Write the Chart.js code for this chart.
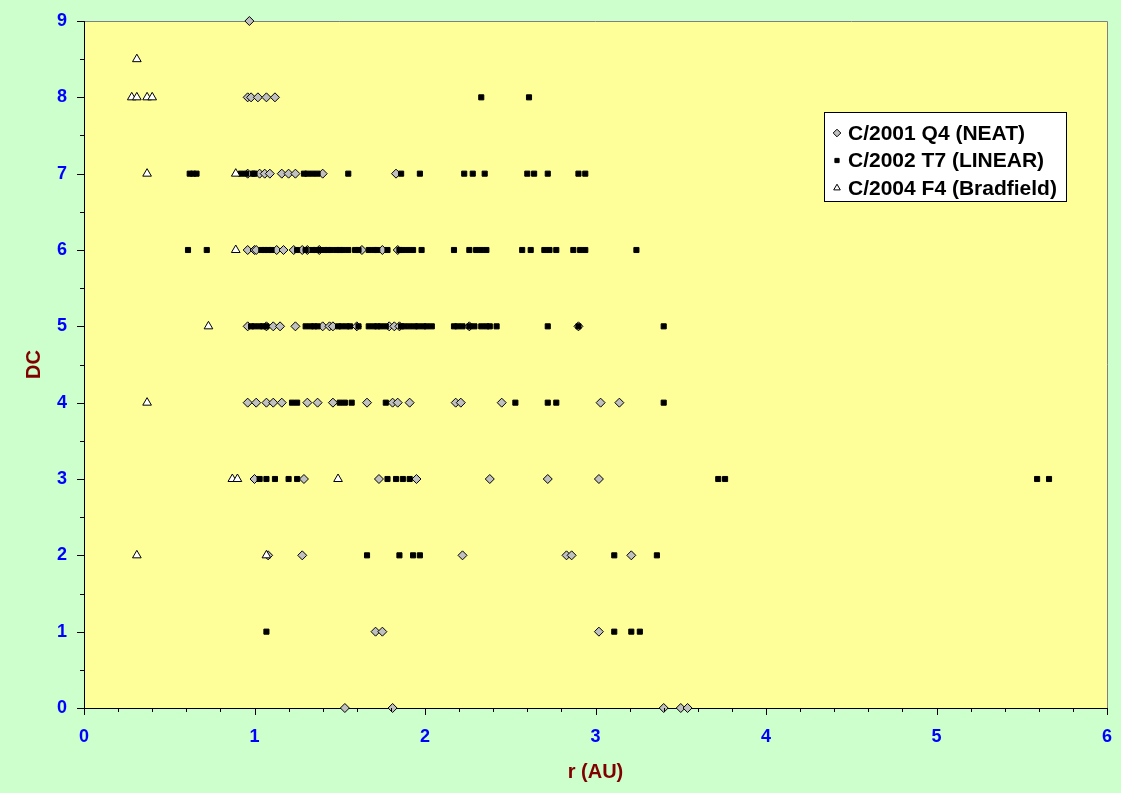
<!DOCTYPE html>
<html><head><meta charset="utf-8">
<script src="https://cdn.jsdelivr.net/npm/chart.js@4"></script>
<style>html,body{margin:0;padding:0;background:#CCFFCC;}#wrap{width:1121px;height:793px;}</style>
</head><body><div id="wrap"><canvas id="c" width="1121" height="793"></canvas></div>
<script>
const seriesNames = ['C/2001 Q4 (NEAT)', 'C/2002 T7 (LINEAR)', 'C/2004 F4 (Bradfield)'];
const xTitle = 'r (AU)';
const yTitle = 'DC';
const xTickValues = [0, 1, 2, 3, 4, 5, 6];
const yTickValues = [0, 1, 2, 3, 4, 5, 6, 7, 8, 9];

// [r (AU), DC]
const neatPoints = [
  [0.97,9],
  [0.96,8],[0.98,8],[1.02,8],[1.07,8],[1.12,8],
  [0.96,7],[1.03,7],[1.06,7],[1.09,7],[1.16,7],[1.20,7],[1.24,7],[1.40,7],[1.83,7],
  [0.96,6],[1.00,6],[1.01,6],[1.13,6],[1.17,6],[1.23,6],[1.28,6],[1.31,6],[1.38,6],[1.63,6],[1.75,6],[1.84,6],
  [0.96,5],[1.07,5],[1.11,5],[1.15,5],[1.24,5],[1.40,5],[1.44,5],[1.46,5],[1.60,5],[1.79,5],[1.82,5],[1.85,5],[2.26,5],[2.90,5],
  [0.96,4],[1.01,4],[1.07,4],[1.11,4],[1.16,4],[1.31,4],[1.37,4],[1.46,4],[1.66,4],[1.81,4],[1.84,4],[1.91,4],[2.18,4],[2.21,4],[2.45,4],[3.03,4],[3.14,4],
  [1.00,3],[1.29,3],[1.73,3],[1.95,3],[2.38,3],[2.72,3],[3.02,3],
  [1.08,2],[1.28,2],[2.22,2],[2.83,2],[2.86,2],[3.21,2],
  [1.71,1],[1.75,1],[3.02,1],
  [1.53,0],[1.81,0],[3.40,0],[3.50,0],[3.54,0]
];
const linearPoints = [
  [2.33,8],[2.61,8],
  [0.62,7],[0.64,7],[0.66,7],[0.92,7],[0.95,7],[0.99,7],[1.00,7],[1.29,7],[1.31,7],[1.34,7],[1.37,7],[1.55,7],[1.86,7],[1.97,7],[2.23,7],[2.28,7],[2.35,7],[2.60,7],[2.64,7],[2.72,7],[2.90,7],[2.94,7],
  [0.61,6],[0.72,6],[1.04,6],[1.06,6],[1.08,6],[1.10,6],[1.25,6],[1.30,6],[1.34,6],[1.36,6],[1.38,6],[1.41,6],[1.43,6],[1.45,6],[1.48,6],[1.50,6],[1.52,6],[1.55,6],[1.59,6],[1.61,6],[1.67,6],[1.70,6],[1.72,6],[1.78,6],[1.85,6],[1.87,6],[1.90,6],[1.93,6],[1.98,6],[2.17,6],[2.26,6],[2.30,6],[2.33,6],[2.36,6],[2.57,6],[2.62,6],[2.70,6],[2.73,6],[2.77,6],[2.87,6],[2.91,6],[2.94,6],[3.24,6],
  [0.98,5],[1.00,5],[1.03,5],[1.05,5],[1.07,5],[1.30,5],[1.33,5],[1.35,5],[1.37,5],[1.49,5],[1.51,5],[1.54,5],[1.56,5],[1.61,5],[1.67,5],[1.70,5],[1.72,5],[1.74,5],[1.77,5],[1.86,5],[1.88,5],[1.91,5],[1.94,5],[1.96,5],[1.99,5],[2.01,5],[2.04,5],[2.17,5],[2.19,5],[2.22,5],[2.26,5],[2.29,5],[2.33,5],[2.36,5],[2.38,5],[2.42,5],[2.72,5],[2.90,5],[3.40,5],
  [1.22,4],[1.25,4],[1.50,4],[1.53,4],[1.57,4],[1.77,4],[2.53,4],[2.72,4],[2.77,4],[3.40,4],
  [1.03,3],[1.07,3],[1.12,3],[1.20,3],[1.25,3],[1.78,3],[1.83,3],[1.87,3],[1.91,3],[3.72,3],[3.76,3],[5.59,3],[5.66,3],
  [1.66,2],[1.85,2],[1.93,2],[1.97,2],[3.11,2],[3.36,2],
  [1.07,1],[3.11,1],[3.21,1],[3.26,1]
];
const bradfieldPoints = [
  [0.31,8.5],
  [0.28,8],[0.31,8],[0.37,8],[0.40,8],
  [0.37,7],[0.89,7],
  [0.89,6],
  [0.73,5],
  [0.37,4],
  [0.87,3],[0.90,3],[1.49,3],
  [0.31,2],[1.07,2]
];

const FONT = '"Liberation Sans", Arial, sans-serif';
const toXY = pts => pts.map(p => ({x: p[0], y: p[1]}));

const decorPlugin = {
  id: 'decor',
  beforeDraw(chart) {
    const {ctx, chartArea: a} = chart;
    ctx.save();
    ctx.fillStyle = '#CCFFCC';
    ctx.fillRect(0, 0, chart.width, chart.height);
    ctx.fillStyle = '#FFFF99';
    ctx.fillRect(a.left, a.top, a.right - a.left, a.bottom - a.top);
    ctx.strokeStyle = '#808080';
    ctx.lineWidth = 1;
    ctx.beginPath();
    ctx.moveTo(a.left, a.top + 0.5); ctx.lineTo(a.right + 0.5, a.top + 0.5);
    ctx.lineTo(a.right + 0.5, a.bottom);
    ctx.stroke();
    ctx.restore();
  },
  afterDraw(chart) {
    const {ctx} = chart;
    const xs = chart.scales.x, ys = chart.scales.y;
    ctx.save();
    ctx.strokeStyle = '#000';
    ctx.lineWidth = 1;
    ctx.beginPath();
    for (let i = 0; i <= 30; i++) {
      const v = i * 0.2;
      const px = Math.round(xs.getPixelForValue(v)) + 0.5;
      const len = (i % 5 === 0) ? 7 : 4;
      ctx.moveTo(px, ys.bottom); ctx.lineTo(px, ys.bottom + len);
    }
    for (let i = 0; i <= 18; i++) {
      const v = i * 0.5;
      const py = Math.round(ys.getPixelForValue(v)) + 0.5;
      const len = (i % 2 === 0) ? 7 : 4;
      ctx.moveTo(xs.left, py); ctx.lineTo(xs.left - len, py);
    }
    ctx.stroke();

    // legend
    const lx = 824, ly = 112, lw = 242, lh = 89;
    ctx.fillStyle = '#FFFFFF';
    ctx.fillRect(lx, ly, lw, lh);
    ctx.strokeStyle = '#000';
    ctx.strokeRect(lx + 0.5, ly + 0.5, lw, lh);
    chart.data.datasets.forEach((ds, i) => {
      const cy = 133 + i * 27.5;
      ctx.fillStyle = ds.backgroundColor;
      ctx.strokeStyle = ds.borderColor;
      ctx.lineWidth = 1;
      Chart.helpers.drawPoint(ctx, {pointStyle: ds.pointStyle, radius: ds.pointStyle === 'rect' ? 3 : 3.8, borderWidth: 1, rotation: 0}, 837, cy);
      ctx.fillStyle = '#000';
      ctx.font = 'bold 21px ' + FONT;
      ctx.textBaseline = 'middle';
      ctx.textAlign = 'left';
      ctx.fillText(ds.label, 848, cy + 1);
    });
    ctx.restore();
  }
};

new Chart(document.getElementById('c'), {
  type: 'scatter',
  data: {
    datasets: [
      {label: seriesNames[0], data: toXY(neatPoints), pointStyle: 'rectRot', pointRadius: 4.5, backgroundColor: '#C0C0C0', borderColor: '#000000', borderWidth: 1, order: 3, clip: false},
      {label: seriesNames[1], data: toXY(linearPoints), pointStyle: 'rect', pointRadius: 3.6, backgroundColor: '#000000', borderColor: '#000000', borderWidth: 1, order: 2, clip: false},
      {label: seriesNames[2], data: toXY(bradfieldPoints), pointStyle: 'triangle', pointRadius: 5, backgroundColor: '#FFFFFF', borderColor: '#000000', borderWidth: 1, order: 1, clip: false}
    ]
  },
  options: {
    responsive: false,
    animation: false,
    events: [],
    layout: {padding: {top: 21, right: 14, left: 0, bottom: 0}},
    plugins: {legend: {display: false}, tooltip: {enabled: false}},
    scales: {
      x: {
        type: 'linear', min: 0, max: 6,
        afterBuildTicks: s => { s.ticks = xTickValues.map(v => ({value: v})); },
        afterFit: s => { s.height = 85; s.paddingLeft = 0; s.paddingRight = 0; },
        grid: {display: false, drawTicks: false},
        border: {display: true, color: '#000', width: 1},
        ticks: {color: '#0000FF', font: {family: FONT, size: 18, weight: 'bold'}, padding: 18, maxRotation: 0},
        title: {display: true, text: xTitle, color: '#800000', font: {family: FONT, size: 20, weight: 'bold'}, padding: {top: 0, bottom: 9}}
      },
      y: {
        type: 'linear', min: 0, max: 9,
        afterBuildTicks: s => { s.ticks = yTickValues.map(v => ({value: v})); },
        afterFit: s => { s.width = 84; s.paddingTop = 0; s.paddingBottom = 0; },
        grid: {display: false, drawTicks: false},
        border: {display: true, color: '#000', width: 1},
        ticks: {color: '#0000FF', font: {family: FONT, size: 18, weight: 'bold'}, padding: 17},
        title: {display: true, text: yTitle, color: '#800000', font: {family: FONT, size: 20, weight: 'bold'}, padding: {top: 22, bottom: 0}}
      }
    }
  },
  plugins: [decorPlugin]
});
</script></body></html>
